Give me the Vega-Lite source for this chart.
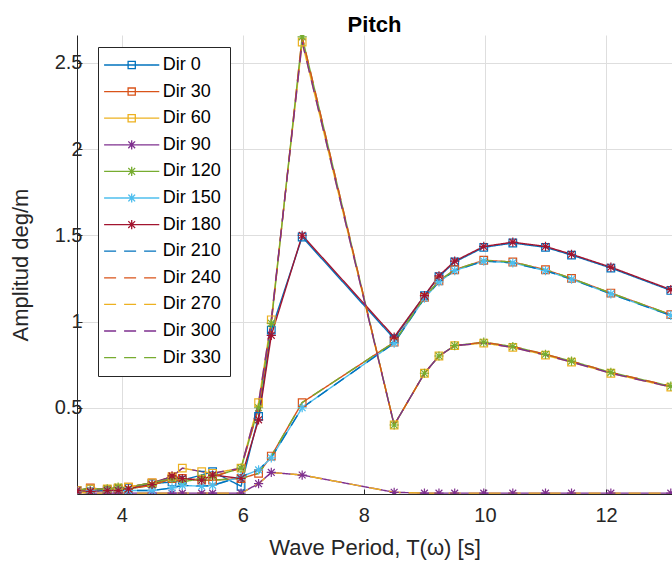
{
  "$schema": "https://vega.github.io/schema/vega-lite/v6.json",
  "width": 595,
  "height": 459,
  "autosize": "none",
  "padding": {"left": 77, "top": 35, "right": 0, "bottom": 76},
  "title": {"text": "Pitch", "fontSize": 22, "fontWeight": "bold", "font": "Liberation Sans", "color": "#000000", "baseline": "alphabetic", "offset": 4, "dy": 23, "frame": "group"},
  "data": {"values": [
    {"d":"Dir 0","t":3.26,"a":0.02},{"d":"Dir 0","t":3.48,"a":0.03},{"d":"Dir 0","t":3.76,"a":0.02},{"d":"Dir 0","t":3.94,"a":0.03},{"d":"Dir 0","t":4.11,"a":0.035},{"d":"Dir 0","t":4.5,"a":0.06},{"d":"Dir 0","t":4.83,"a":0.07},{"d":"Dir 0","t":5.0,"a":0.08},{"d":"Dir 0","t":5.32,"a":0.11},{"d":"Dir 0","t":5.5,"a":0.13},{"d":"Dir 0","t":5.97,"a":0.045},{"d":"Dir 0","t":6.26,"a":0.45},{"d":"Dir 0","t":6.47,"a":0.95},{"d":"Dir 0","t":6.98,"a":1.49},{"d":"Dir 0","t":8.5,"a":0.9},{"d":"Dir 0","t":9.0,"a":1.15},{"d":"Dir 0","t":9.24,"a":1.26},{"d":"Dir 0","t":9.5,"a":1.345},{"d":"Dir 0","t":9.98,"a":1.43},{"d":"Dir 0","t":10.46,"a":1.455},{"d":"Dir 0","t":11.0,"a":1.43},{"d":"Dir 0","t":11.43,"a":1.385},{"d":"Dir 0","t":12.08,"a":1.31},{"d":"Dir 0","t":13.07,"a":1.18},
    {"d":"Dir 30","t":3.26,"a":0.02},{"d":"Dir 30","t":3.48,"a":0.035},{"d":"Dir 30","t":3.76,"a":0.025},{"d":"Dir 30","t":3.94,"a":0.03},{"d":"Dir 30","t":4.11,"a":0.04},{"d":"Dir 30","t":4.5,"a":0.065},{"d":"Dir 30","t":4.83,"a":0.09},{"d":"Dir 30","t":5.0,"a":0.09},{"d":"Dir 30","t":5.32,"a":0.08},{"d":"Dir 30","t":5.5,"a":0.08},{"d":"Dir 30","t":5.97,"a":0.09},{"d":"Dir 30","t":6.26,"a":0.12},{"d":"Dir 30","t":6.47,"a":0.22},{"d":"Dir 30","t":6.98,"a":0.53},{"d":"Dir 30","t":8.5,"a":0.88},{"d":"Dir 30","t":9.0,"a":1.14},{"d":"Dir 30","t":9.24,"a":1.235},{"d":"Dir 30","t":9.5,"a":1.3},{"d":"Dir 30","t":9.98,"a":1.355},{"d":"Dir 30","t":10.46,"a":1.345},{"d":"Dir 30","t":11.0,"a":1.3},{"d":"Dir 30","t":11.43,"a":1.25},{"d":"Dir 30","t":12.08,"a":1.165},{"d":"Dir 30","t":13.07,"a":1.04},
    {"d":"Dir 60","t":3.26,"a":0.02},{"d":"Dir 60","t":3.48,"a":0.03},{"d":"Dir 60","t":3.76,"a":0.03},{"d":"Dir 60","t":3.94,"a":0.035},{"d":"Dir 60","t":4.11,"a":0.04},{"d":"Dir 60","t":4.5,"a":0.065},{"d":"Dir 60","t":4.83,"a":0.1},{"d":"Dir 60","t":5.0,"a":0.15},{"d":"Dir 60","t":5.32,"a":0.13},{"d":"Dir 60","t":5.5,"a":0.12},{"d":"Dir 60","t":5.97,"a":0.15},{"d":"Dir 60","t":6.26,"a":0.53},{"d":"Dir 60","t":6.47,"a":1.01},{"d":"Dir 60","t":6.98,"a":2.62},{"d":"Dir 60","t":8.5,"a":0.4},{"d":"Dir 60","t":9.0,"a":0.7},{"d":"Dir 60","t":9.24,"a":0.8},{"d":"Dir 60","t":9.5,"a":0.86},{"d":"Dir 60","t":9.98,"a":0.875},{"d":"Dir 60","t":10.46,"a":0.85},{"d":"Dir 60","t":11.0,"a":0.805},{"d":"Dir 60","t":11.43,"a":0.765},{"d":"Dir 60","t":12.08,"a":0.7},{"d":"Dir 60","t":13.07,"a":0.62},
    {"d":"Dir 90","t":3.26,"a":0.01},{"d":"Dir 90","t":3.48,"a":0.005},{"d":"Dir 90","t":3.76,"a":0.005},{"d":"Dir 90","t":3.94,"a":0.005},{"d":"Dir 90","t":4.11,"a":0.005},{"d":"Dir 90","t":4.5,"a":0.005},{"d":"Dir 90","t":4.83,"a":0.005},{"d":"Dir 90","t":5.0,"a":0.005},{"d":"Dir 90","t":5.32,"a":0.005},{"d":"Dir 90","t":5.5,"a":0.005},{"d":"Dir 90","t":5.97,"a":0.005},{"d":"Dir 90","t":6.26,"a":0.06},{"d":"Dir 90","t":6.47,"a":0.125},{"d":"Dir 90","t":6.98,"a":0.11},{"d":"Dir 90","t":8.5,"a":0.01},{"d":"Dir 90","t":9.0,"a":0.005},{"d":"Dir 90","t":9.24,"a":0.005},{"d":"Dir 90","t":9.5,"a":0.005},{"d":"Dir 90","t":9.98,"a":0.005},{"d":"Dir 90","t":10.46,"a":0.005},{"d":"Dir 90","t":11.0,"a":0.005},{"d":"Dir 90","t":11.43,"a":0.005},{"d":"Dir 90","t":12.08,"a":0.005},{"d":"Dir 90","t":13.07,"a":0.005},
    {"d":"Dir 120","t":3.26,"a":0.02},{"d":"Dir 120","t":3.48,"a":0.02},{"d":"Dir 120","t":3.76,"a":0.03},{"d":"Dir 120","t":3.94,"a":0.04},{"d":"Dir 120","t":4.11,"a":0.03},{"d":"Dir 120","t":4.5,"a":0.05},{"d":"Dir 120","t":4.83,"a":0.09},{"d":"Dir 120","t":5.0,"a":0.07},{"d":"Dir 120","t":5.32,"a":0.09},{"d":"Dir 120","t":5.5,"a":0.1},{"d":"Dir 120","t":5.97,"a":0.15},{"d":"Dir 120","t":6.26,"a":0.5},{"d":"Dir 120","t":6.47,"a":0.99},{"d":"Dir 120","t":6.98,"a":2.65},{"d":"Dir 120","t":8.5,"a":0.4},{"d":"Dir 120","t":9.0,"a":0.7},{"d":"Dir 120","t":9.24,"a":0.8},{"d":"Dir 120","t":9.5,"a":0.86},{"d":"Dir 120","t":9.98,"a":0.88},{"d":"Dir 120","t":10.46,"a":0.855},{"d":"Dir 120","t":11.0,"a":0.81},{"d":"Dir 120","t":11.43,"a":0.77},{"d":"Dir 120","t":12.08,"a":0.705},{"d":"Dir 120","t":13.07,"a":0.625},
    {"d":"Dir 150","t":3.26,"a":0.02},{"d":"Dir 150","t":3.48,"a":0.02},{"d":"Dir 150","t":3.76,"a":0.02},{"d":"Dir 150","t":3.94,"a":0.02},{"d":"Dir 150","t":4.11,"a":0.02},{"d":"Dir 150","t":4.5,"a":0.02},{"d":"Dir 150","t":4.83,"a":0.035},{"d":"Dir 150","t":5.0,"a":0.05},{"d":"Dir 150","t":5.32,"a":0.045},{"d":"Dir 150","t":5.5,"a":0.05},{"d":"Dir 150","t":5.97,"a":0.1},{"d":"Dir 150","t":6.26,"a":0.14},{"d":"Dir 150","t":6.47,"a":0.21},{"d":"Dir 150","t":6.98,"a":0.5},{"d":"Dir 150","t":8.5,"a":0.875},{"d":"Dir 150","t":9.0,"a":1.135},{"d":"Dir 150","t":9.24,"a":1.23},{"d":"Dir 150","t":9.5,"a":1.295},{"d":"Dir 150","t":9.98,"a":1.35},{"d":"Dir 150","t":10.46,"a":1.34},{"d":"Dir 150","t":11.0,"a":1.295},{"d":"Dir 150","t":11.43,"a":1.245},{"d":"Dir 150","t":12.08,"a":1.16},{"d":"Dir 150","t":13.07,"a":1.035},
    {"d":"Dir 180","t":3.26,"a":0.02},{"d":"Dir 180","t":3.48,"a":0.015},{"d":"Dir 180","t":3.76,"a":0.02},{"d":"Dir 180","t":3.94,"a":0.02},{"d":"Dir 180","t":4.11,"a":0.03},{"d":"Dir 180","t":4.5,"a":0.055},{"d":"Dir 180","t":4.83,"a":0.105},{"d":"Dir 180","t":5.0,"a":0.09},{"d":"Dir 180","t":5.32,"a":0.08},{"d":"Dir 180","t":5.5,"a":0.11},{"d":"Dir 180","t":5.97,"a":0.09},{"d":"Dir 180","t":6.26,"a":0.43},{"d":"Dir 180","t":6.47,"a":0.92},{"d":"Dir 180","t":6.98,"a":1.5},{"d":"Dir 180","t":8.5,"a":0.91},{"d":"Dir 180","t":9.0,"a":1.15},{"d":"Dir 180","t":9.24,"a":1.265},{"d":"Dir 180","t":9.5,"a":1.35},{"d":"Dir 180","t":9.98,"a":1.435},{"d":"Dir 180","t":10.46,"a":1.46},{"d":"Dir 180","t":11.0,"a":1.435},{"d":"Dir 180","t":11.43,"a":1.39},{"d":"Dir 180","t":12.08,"a":1.315},{"d":"Dir 180","t":13.07,"a":1.185},
    {"d":"Dir 210","t":3.26,"a":0.02},{"d":"Dir 210","t":3.48,"a":0.02},{"d":"Dir 210","t":3.76,"a":0.02},{"d":"Dir 210","t":3.94,"a":0.02},{"d":"Dir 210","t":4.11,"a":0.02},{"d":"Dir 210","t":4.5,"a":0.02},{"d":"Dir 210","t":4.83,"a":0.035},{"d":"Dir 210","t":5.0,"a":0.05},{"d":"Dir 210","t":5.32,"a":0.045},{"d":"Dir 210","t":5.5,"a":0.05},{"d":"Dir 210","t":5.97,"a":0.1},{"d":"Dir 210","t":6.26,"a":0.14},{"d":"Dir 210","t":6.47,"a":0.21},{"d":"Dir 210","t":6.98,"a":0.5},{"d":"Dir 210","t":8.5,"a":0.875},{"d":"Dir 210","t":9.0,"a":1.135},{"d":"Dir 210","t":9.24,"a":1.23},{"d":"Dir 210","t":9.5,"a":1.295},{"d":"Dir 210","t":9.98,"a":1.35},{"d":"Dir 210","t":10.46,"a":1.34},{"d":"Dir 210","t":11.0,"a":1.295},{"d":"Dir 210","t":11.43,"a":1.245},{"d":"Dir 210","t":12.08,"a":1.16},{"d":"Dir 210","t":13.07,"a":1.035},
    {"d":"Dir 240","t":3.26,"a":0.02},{"d":"Dir 240","t":3.48,"a":0.02},{"d":"Dir 240","t":3.76,"a":0.03},{"d":"Dir 240","t":3.94,"a":0.04},{"d":"Dir 240","t":4.11,"a":0.03},{"d":"Dir 240","t":4.5,"a":0.05},{"d":"Dir 240","t":4.83,"a":0.09},{"d":"Dir 240","t":5.0,"a":0.07},{"d":"Dir 240","t":5.32,"a":0.09},{"d":"Dir 240","t":5.5,"a":0.1},{"d":"Dir 240","t":5.97,"a":0.15},{"d":"Dir 240","t":6.26,"a":0.5},{"d":"Dir 240","t":6.47,"a":0.99},{"d":"Dir 240","t":6.98,"a":2.65},{"d":"Dir 240","t":8.5,"a":0.4},{"d":"Dir 240","t":9.0,"a":0.7},{"d":"Dir 240","t":9.24,"a":0.8},{"d":"Dir 240","t":9.5,"a":0.86},{"d":"Dir 240","t":9.98,"a":0.88},{"d":"Dir 240","t":10.46,"a":0.855},{"d":"Dir 240","t":11.0,"a":0.81},{"d":"Dir 240","t":11.43,"a":0.77},{"d":"Dir 240","t":12.08,"a":0.705},{"d":"Dir 240","t":13.07,"a":0.625},
    {"d":"Dir 270","t":3.26,"a":0.01},{"d":"Dir 270","t":3.48,"a":0.005},{"d":"Dir 270","t":3.76,"a":0.005},{"d":"Dir 270","t":3.94,"a":0.005},{"d":"Dir 270","t":4.11,"a":0.005},{"d":"Dir 270","t":4.5,"a":0.005},{"d":"Dir 270","t":4.83,"a":0.005},{"d":"Dir 270","t":5.0,"a":0.005},{"d":"Dir 270","t":5.32,"a":0.005},{"d":"Dir 270","t":5.5,"a":0.005},{"d":"Dir 270","t":5.97,"a":0.005},{"d":"Dir 270","t":6.26,"a":0.06},{"d":"Dir 270","t":6.47,"a":0.125},{"d":"Dir 270","t":6.98,"a":0.11},{"d":"Dir 270","t":8.5,"a":0.01},{"d":"Dir 270","t":9.0,"a":0.005},{"d":"Dir 270","t":9.24,"a":0.005},{"d":"Dir 270","t":9.5,"a":0.005},{"d":"Dir 270","t":9.98,"a":0.005},{"d":"Dir 270","t":10.46,"a":0.005},{"d":"Dir 270","t":11.0,"a":0.005},{"d":"Dir 270","t":11.43,"a":0.005},{"d":"Dir 270","t":12.08,"a":0.005},{"d":"Dir 270","t":13.07,"a":0.005},
    {"d":"Dir 300","t":3.26,"a":0.02},{"d":"Dir 300","t":3.48,"a":0.03},{"d":"Dir 300","t":3.76,"a":0.03},{"d":"Dir 300","t":3.94,"a":0.035},{"d":"Dir 300","t":4.11,"a":0.04},{"d":"Dir 300","t":4.5,"a":0.065},{"d":"Dir 300","t":4.83,"a":0.1},{"d":"Dir 300","t":5.0,"a":0.15},{"d":"Dir 300","t":5.32,"a":0.13},{"d":"Dir 300","t":5.5,"a":0.12},{"d":"Dir 300","t":5.97,"a":0.15},{"d":"Dir 300","t":6.26,"a":0.53},{"d":"Dir 300","t":6.47,"a":1.01},{"d":"Dir 300","t":6.98,"a":2.62},{"d":"Dir 300","t":8.5,"a":0.4},{"d":"Dir 300","t":9.0,"a":0.7},{"d":"Dir 300","t":9.24,"a":0.8},{"d":"Dir 300","t":9.5,"a":0.86},{"d":"Dir 300","t":9.98,"a":0.875},{"d":"Dir 300","t":10.46,"a":0.85},{"d":"Dir 300","t":11.0,"a":0.805},{"d":"Dir 300","t":11.43,"a":0.765},{"d":"Dir 300","t":12.08,"a":0.7},{"d":"Dir 300","t":13.07,"a":0.62},
    {"d":"Dir 330","t":3.26,"a":0.02},{"d":"Dir 330","t":3.48,"a":0.035},{"d":"Dir 330","t":3.76,"a":0.025},{"d":"Dir 330","t":3.94,"a":0.03},{"d":"Dir 330","t":4.11,"a":0.04},{"d":"Dir 330","t":4.5,"a":0.065},{"d":"Dir 330","t":4.83,"a":0.09},{"d":"Dir 330","t":5.0,"a":0.09},{"d":"Dir 330","t":5.32,"a":0.08},{"d":"Dir 330","t":5.5,"a":0.08},{"d":"Dir 330","t":5.97,"a":0.09},{"d":"Dir 330","t":6.26,"a":0.12},{"d":"Dir 330","t":6.47,"a":0.22},{"d":"Dir 330","t":6.98,"a":0.53},{"d":"Dir 330","t":8.5,"a":0.88},{"d":"Dir 330","t":9.0,"a":1.14},{"d":"Dir 330","t":9.24,"a":1.235},{"d":"Dir 330","t":9.5,"a":1.3},{"d":"Dir 330","t":9.98,"a":1.355},{"d":"Dir 330","t":10.46,"a":1.345},{"d":"Dir 330","t":11.0,"a":1.3},{"d":"Dir 330","t":11.43,"a":1.25},{"d":"Dir 330","t":12.08,"a":1.165},{"d":"Dir 330","t":13.07,"a":1.04}
  ]},
  "encoding": {
    "x": {
      "field": "t", "type": "quantitative",
      "scale": {"domain": [3.26, 13.09], "nice": false, "zero": false},
      "axis": {"values": [4, 6, 8, 10, 12], "title": "Wave Period, T(ω) [s]", "grid": true, "tickSize": -5, "labelPadding": 16, "titlePadding": 12}
    },
    "y": {
      "field": "a", "type": "quantitative",
      "scale": {"domain": [0, 2.661], "nice": false, "zero": false},
      "axis": {"values": [0.5, 1, 1.5, 2, 2.5], "format": "~g", "title": "Amplitud deg/m", "grid": true, "tickSize": -5, "labelPadding": 0, "titlePadding": 22}
    },
    "color": {
      "field": "d", "type": "nominal",
      "scale": {
        "domain": ["Dir 0","Dir 30","Dir 60","Dir 90","Dir 120","Dir 150","Dir 180","Dir 210","Dir 240","Dir 270","Dir 300","Dir 330"],
        "range": ["#0072BD","#D95319","#EDB120","#7E2F8E","#77AC30","#4DBEEE","#A2142F","#0072BD","#D95319","#EDB120","#7E2F8E","#77AC30"]
      },
      "legend": {
        "title": null, "orient": "none", "legendX": 21, "legendY": 12, "direction": "vertical",
        "padding": 9, "fillColor": "#ffffff", "strokeColor": "#262626",
        "labelFont": "Liberation Sans", "labelFontSize": 18, "labelColor": "#000000",
        "symbolSize": 64, "symbolOffset": 15.7, "labelOffset": 22, "rowPadding": 8.6,
        "symbolStrokeWidth": 1.3, "symbolFillColor": "transparent",
        "encode": {
          "symbols": {
            "update": {
              "shape": {"signal": "indexof(['Dir 0','Dir 30','Dir 60'], datum.value) >= 0 ? 'M-6.9,0H6.9M-0.9,-0.9H0.9V0.9H-0.9Z' : (indexof(['Dir 90','Dir 120','Dir 150','Dir 180'], datum.value) >= 0 ? 'M-6.9,0H6.9M0,-1.15V1.15M-0.85,-0.85L0.85,0.85M-0.85,0.85L0.85,-0.85' : 'M-6.9,0H6.9')"},
              "strokeDash": {"signal": "indexof(['Dir 210','Dir 240','Dir 270','Dir 300','Dir 330'], datum.value) >= 0 ? [12, 8] : [1, 0]"},
              "opacity": {"value": 1}
            }
          }
        }
      }
    }
  },
  "layer": [
    {
      "mark": {"type": "line", "strokeWidth": 1.4, "clip": true},
      "encoding": {
        "strokeDash": {
          "field": "d", "type": "nominal", "legend": null,
          "scale": {
            "domain": ["Dir 0","Dir 30","Dir 60","Dir 90","Dir 120","Dir 150","Dir 180","Dir 210","Dir 240","Dir 270","Dir 300","Dir 330"],
            "range": [[1,0],[1,0],[1,0],[1,0],[1,0],[1,0],[1,0],[12,8],[12,8],[12,8],[12,8],[12,8]]
          }
        }
      }
    },
    {
      "transform": [{"filter": {"field": "d", "oneOf": ["Dir 0","Dir 30","Dir 60","Dir 90","Dir 120","Dir 150","Dir 180"]}}],
      "mark": {"type": "point", "filled": false, "size": 64, "strokeWidth": 1.2, "opacity": 1, "clip": true},
      "encoding": {
        "shape": {
          "field": "d", "type": "nominal", "legend": null,
          "scale": {
            "domain": ["Dir 0","Dir 30","Dir 60","Dir 90","Dir 120","Dir 150","Dir 180"],
            "range": [
              "M-0.95,-0.95H0.95V0.95H-0.95Z","M-0.95,-0.95H0.95V0.95H-0.95Z","M-0.95,-0.95H0.95V0.95H-0.95Z",
              "M-1.15,0H1.15M0,-1.15V1.15M-0.85,-0.85L0.85,0.85M-0.85,0.85L0.85,-0.85",
              "M-1.15,0H1.15M0,-1.15V1.15M-0.85,-0.85L0.85,0.85M-0.85,0.85L0.85,-0.85",
              "M-1.15,0H1.15M0,-1.15V1.15M-0.85,-0.85L0.85,0.85M-0.85,0.85L0.85,-0.85",
              "M-1.15,0H1.15M0,-1.15V1.15M-0.85,-0.85L0.85,0.85M-0.85,0.85L0.85,-0.85"
            ]
          }
        }
      }
    }
  ],
  "config": {
    "view": {"stroke": null},
    "font": "Liberation Sans",
    "axis": {
      "labelFont": "Liberation Sans", "titleFont": "Liberation Sans",
      "labelFontSize": 20, "titleFontSize": 22, "titleFontWeight": "normal",
      "labelColor": "#262626", "titleColor": "#262626",
      "domainColor": "#262626", "domainWidth": 1, "tickColor": "#262626", "tickWidth": 1,
      "gridColor": "#dedede", "gridWidth": 1
    }
  }
}
